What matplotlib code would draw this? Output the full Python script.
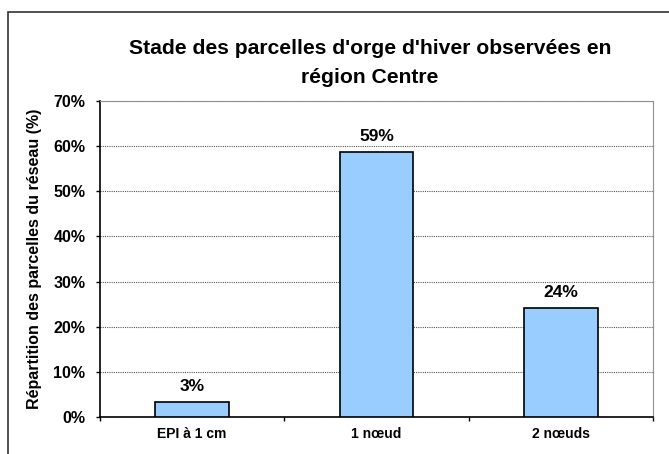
import matplotlib
matplotlib.use('Agg')
import matplotlib.pyplot as plt
from matplotlib.patches import Rectangle

categories = ['EPI à 1 cm', '1 nœud', '2 nœuds']
values = [3.4, 58.7, 24.1]
labels = ['3%', '59%', '24%']
yticks = [0, 10, 20, 30, 40, 50, 60, 70]

plt.rcParams['font.family'] = ['Liberation Sans', 'DejaVu Sans']
plt.rcParams['font.weight'] = 'bold'

fig = plt.figure(figsize=(6.69, 4.54), dpi=100)
W, H = 669.0, 454.0
ax = fig.add_axes([100/W, 1-417/H, 553/W, 316/H])

# outer chart border (cut at right/bottom like the screenshot)
fig.patches.append(Rectangle((8/W, -0.1), 1.2, 1.1 - 12/H, transform=fig.transFigure,
                             fill=False, edgecolor='#333333', linewidth=1.2))

xs = [i + 0.5 for i in range(len(categories))]
ax.bar(xs, values, width=0.4, color='#99CCFF', edgecolor='black', linewidth=1.2, zorder=3)
for x, v, l in zip(xs, values, labels):
    ax.annotate(l, (x, v), xytext=(0, 8), textcoords='offset points',
                ha='center', va='baseline', fontsize=12.5, fontweight='bold')

ax.set_xlim(0, 3)
ax.set_ylim(0, 70)
ax.set_yticks(yticks)
ax.set_yticklabels(['%d%%' % t for t in yticks], fontsize=11.5, fontweight='bold')
ax.set_xticks([0, 1, 2, 3])
ax.set_xticklabels([])
ax.set_xticks(xs, minor=True)
ax.set_xticklabels(categories, minor=True, fontsize=10, fontweight='bold')
ax.tick_params(axis='x', which='minor', length=0, pad=7)
ax.tick_params(axis='x', which='major', length=3, direction='out', width=1)
ax.tick_params(axis='y', length=3, direction='out', width=1, pad=7.5)

ax.yaxis.grid(True, linestyle=(0, (1, 1)), color='#555555', linewidth=0.8, zorder=0)
for s in ['top', 'right']:
    ax.spines[s].set_color('#909090')
    ax.spines[s].set_linewidth(0.8)
for s in ['left', 'bottom']:
    ax.spines[s].set_linewidth(1.2)

ax.set_ylabel('Répartition des parcelles du réseau (%)', fontsize=11.5, fontweight='bold', labelpad=8)

fig.text(370/W, 1-54/H, "Stade des parcelles d'orge d'hiver observées en",
         ha='center', va='baseline', fontsize=15.2, fontweight='bold')
fig.text(370/W, 1-83/H, "région Centre",
         ha='center', va='baseline', fontsize=15.2, fontweight='bold')

fig.savefig('out.png', dpi=100)
